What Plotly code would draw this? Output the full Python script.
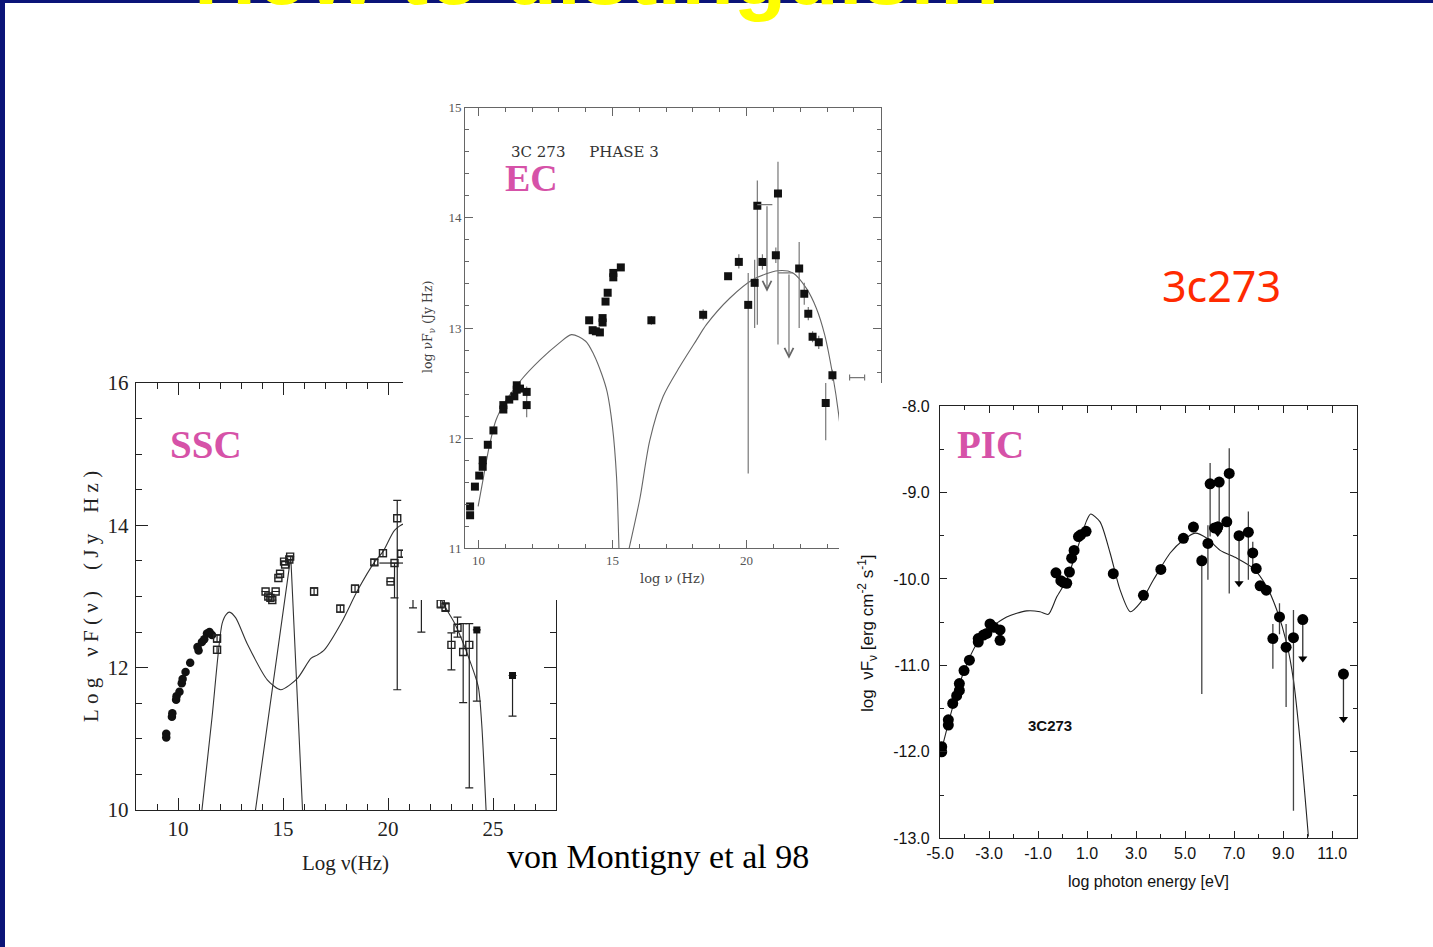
import plotly.graph_objects as go

W, H = 1433, 947
def fx(p): return p / W
def fy(p): return 1 - p / H

# ---------------- SSC panel data ----------------
ssc_radio_x = [9.44, 9.44, 9.71, 9.73, 9.91, 9.93, 10.07, 10.18, 10.22, 10.36, 10.58, 10.93, 10.98, 11.14, 11.25, 11.38, 11.50, 11.62]
ssc_radio_y = [11.07, 11.02, 11.31, 11.36, 11.55, 11.60, 11.66, 11.78, 11.84, 11.94, 12.07, 12.29, 12.24, 12.36, 12.40, 12.48, 12.50, 12.46]

ssc_sq_x = [11.86, 11.86, 14.17, 14.30, 14.40, 14.49, 14.65, 14.78, 14.86, 15.05, 15.10, 15.30, 15.34,
            16.48, 17.73, 18.43, 19.35, 19.76, 20.12, 20.31, 20.44, 20.63, 21.19, 21.59,
            22.51, 22.74, 23.02, 23.31, 23.58, 23.87]
ssc_sq_y = [12.41, 12.25, 13.07, 13.00, 12.98, 12.95, 13.07, 13.26, 13.32, 13.49, 13.45, 13.52, 13.56,
            13.07, 12.83, 13.11, 13.48, 13.61, 13.21, 13.47, 14.10, 13.60, 13.30, 13.10,
            12.90, 12.85, 12.32, 12.56, 12.22, 12.32]
ssc_sq_eplus = [0.05, 0.05, 0, 0, 0, 0, 0, 0, 0, 0, 0, 0, 0,
                0.05, 0.05, 0.05, 0.04, 0.05, 0, 0, 0.25, 0.05, 0.30, 0.30,
                0.06, 0.06, 0.17, 0.15, 0.40, 0.30]
ssc_sq_eminus = [0.05, 0.05, 0, 0, 0, 0, 0, 0, 0, 0, 0, 0, 0,
                 0.05, 0.05, 0.05, 0.04, 0.05, 0, 0.49, 2.41, 0.05, 0.46, 0.60,
                 0.06, 0.06, 0.35, 0.13, 0.71, 2.01]
ssc_sq_exminus = [0] * 19 + [0.72] + [0] * 10
ssc_sq_explus = [0] * 19 + [0.45] + [0] * 10

ssc_fsq_x = [24.23, 25.93]
ssc_fsq_y = [12.53, 11.89]
ssc_fsq_eminus = [1.00, 0.57]

ssc_c1_x = [11.14, 11.62, 12.10, 12.30, 12.45, 12.75, 13.29, 14.25, 14.89, 15.69, 16.33, 16.65, 16.97,
            17.76, 18.56, 19.35, 19.76, 20.31, 20.76, 21.40, 22.00, 22.55, 23.18, 23.82, 24.30, 24.46, 24.67]
ssc_c1_y = [10.00, 11.30, 12.62, 12.75, 12.78, 12.70, 12.34, 11.83, 11.69, 11.85, 12.13, 12.18, 12.25,
            12.62, 13.09, 13.48, 13.63, 13.93, 14.02, 13.95, 13.50, 12.95, 12.62, 12.16, 11.73, 11.22, 10.00]
ssc_c2_x = [13.69, 15.37, 15.93]
ssc_c2_y = [10.00, 13.56, 10.00]

# ---------------- EC panel data ----------------
ec_x = [9.69, 9.69, 9.87, 10.03, 10.16, 10.16, 10.35, 10.56, 10.93, 10.93, 11.15, 11.34, 11.43, 11.43, 11.55, 11.80, 11.80,
        14.13, 14.26, 14.38, 14.53, 14.63, 14.63, 14.74, 14.82, 15.03, 15.03, 15.31, 16.45,
        18.38, 19.31, 19.71, 20.06, 20.30, 20.40, 20.59, 21.09, 21.17, 21.96, 22.15, 22.30, 22.46, 22.69, 22.95, 23.20]
ec_y = [11.38, 11.30, 11.56, 11.66, 11.74, 11.80, 11.94, 12.07, 12.30, 12.26, 12.35, 12.38, 12.48, 12.44, 12.45, 12.42, 12.30,
        13.07, 12.98, 12.97, 12.96, 13.09, 13.05, 13.24, 13.32, 13.50, 13.46, 13.55, 13.07,
        13.12, 13.47, 13.60, 13.21, 13.41, 14.11, 13.60, 13.66, 14.22, 13.54, 13.31, 13.13, 12.92, 12.87, 12.32, 12.57]
ec_eplus = [0] * 15 + [0.05, 0.12] + [0] * 11 + [0.04] + \
           [0.05, 0, 0.07, 0.29, 0.21, 0.23, 0.07, 0.07, 0.29, 0.24, 0.10, 0.06, 0.05, 0.06, 0.18, 0.05]
ec_eminus = [0] * 15 + [0.05, 0.11] + [0] * 11 + [0.04] + \
            [0.05, 0, 0.06, 1.53, 0.41, 1.08, 0.07, 0.07, 1.37, 0.54, 0.10, 0.06, 0.05, 0.06, 0.34, 0.05]

ec_ul_x = [20.76, 21.58]
ec_ul_y = [14.12, 13.50]
ec_ul_low = [13.33, 12.72]
ec_ul_exminus = [0.36, 0.41]
ec_ul_explus = [0.20, 0.15]

ec_bar_x = [24.12]
ec_bar_y = [12.55]
ec_bar_ex = [0.28]

ec_c1_x = [9.99, 10.20, 10.40, 10.65, 11.00, 11.60, 12.30, 13.00, 13.47, 14.00, 14.30, 14.60, 14.80, 15.00, 15.15, 15.24]
ec_c1_y = [11.38, 11.66, 11.92, 12.16, 12.33, 12.53, 12.71, 12.86, 12.94, 12.88, 12.76, 12.58, 12.42, 12.10, 11.65, 11.00]
ec_c2_x = [15.62, 16.02, 16.39, 16.89, 17.51, 18.13, 18.50, 19.37, 20.24, 21.17, 21.73, 22.23, 22.60, 22.91, 23.22, 23.43, 23.70]
ec_c2_y = [11.00, 11.45, 11.98, 12.38, 12.65, 12.89, 13.03, 13.27, 13.44, 13.52, 13.50, 13.36, 13.18, 12.94, 12.56, 12.22, 11.60]

# ---------------- PIC panel data ----------------
pic_x = [-4.93, -4.93, -4.66, -4.66, -4.48, -4.32, -4.21, -4.21, -4.02, -3.80, -3.44, -3.44, -3.23, -3.09, -2.96, -2.80, -2.55, -2.55,
         -0.27, -0.07, 0.03, 0.17, 0.28, 0.37, 0.47, 0.65, 0.74, 0.96, 2.07,
         3.30, 4.01, 4.93, 5.34, 5.68, 5.93, 6.02, 6.20, 6.33, 6.39, 6.70, 6.80, 7.58, 7.76, 7.90, 8.06, 8.31, 8.58, 8.85, 9.12, 9.42]
pic_y = [-11.94, -12.00, -11.63, -11.69, -11.44, -11.35, -11.21, -11.29, -11.06, -10.94, -10.73, -10.69, -10.65, -10.63, -10.52, -10.56, -10.59, -10.71,
         -9.93, -10.02, -10.04, -10.05, -9.92, -9.76, -9.67, -9.51, -9.49, -9.45, -9.94,
         -10.19, -9.89, -9.53, -9.40, -9.79, -9.59, -8.90, -9.41, -9.40, -8.88, -9.34, -8.78, -9.46, -9.70, -9.88, -10.08, -10.13, -10.69, -10.44, -10.79, -10.68]
pic_eplus = [0] * 17 + [0.06] + [0] * 11 + \
            [0, 0, 0, 0.06, 0.07, 0.21, 0.24, 0, 0, 0.05, 0, 0.29, 0.24, 0.13, 0, 0, 0, 0.17, 0.16, 0.27, 0.32]
pic_eminus = [0] * 17 + [0.06] + [0] * 11 + \
             [0, 0, 0, 0.06, 1.54, 0.42, 0.61, 0, 0, 0.52, 0, 1.39, 0.55, 0.16, 0, 0, 0, 0.35, 0.20, 0.69, 2.00]

pic_ul_x = [6.33, 7.20, 9.80, 11.46]
pic_ul_y = [-9.40, -9.50, -10.47, -11.10]
pic_ul_low = [-9.47, -10.05, -10.92, -11.62]

pic_c_x = [-5.00, -4.50, -4.00, -3.50, -3.00, -2.28, -1.46, -0.92, -0.58, -0.24, 0.17, 0.58, 0.99, 1.15, 1.53, 1.94,
           2.35, 2.76, 3.16, 3.71, 4.39, 4.93, 5.41, 5.89, 6.43, 7.11, 7.79, 8.33, 8.74, 9.15, 9.42, 9.69, 10.03]
pic_c_y = [-12.05, -11.50, -11.05, -10.75, -10.58, -10.44, -10.37, -10.38, -10.41, -10.21, -10.01, -9.67, -9.32, -9.25, -9.34, -9.70,
           -10.13, -10.38, -10.28, -10.01, -9.70, -9.55, -9.47, -9.53, -9.67, -9.76, -9.88, -10.09, -10.36, -10.75, -11.17, -11.87, -12.98]

pic_xtick_vals = [-5, -3, -1, 1, 3, 5, 7, 9, 11]
pic_xtick_text = ["-5.0", "-3.0", "-1.0", "1.0", "3.0", "5.0", "7.0", "9.0", "11.0"]
pic_ytick_vals = [-13, -12, -11, -10, -9, -8]
pic_ytick_text = ["-13.0", "-12.0", "-11.0", "-10.0", "-9.0", "-8.0"]

# ---------------- figure ----------------
fig = go.Figure()

SERIF = "Liberation Serif, Times New Roman, serif"
WSERIF = "DejaVu Serif, serif"
SANS = "Liberation Sans Narrow, Liberation Sans, Arial, sans-serif"
PINK = "#d652a8"

# SSC
fig.add_trace(go.Scatter(x=ssc_c1_x, y=ssc_c1_y, mode="lines", line=dict(color="#333", width=1.1, shape="spline", smoothing=0.7),
                         xaxis="x", yaxis="y", hoverinfo="skip"))
fig.add_trace(go.Scatter(x=ssc_c2_x, y=ssc_c2_y, mode="lines", line=dict(color="#333", width=1.1),
                         xaxis="x", yaxis="y", hoverinfo="skip"))
fig.add_trace(go.Scatter(x=ssc_radio_x, y=ssc_radio_y, mode="markers", marker=dict(symbol="circle", size=8.5, color="#111"),
                         xaxis="x", yaxis="y"))
fig.add_trace(go.Scatter(x=ssc_sq_x, y=ssc_sq_y, mode="markers",
                         marker=dict(symbol="square-open", size=7, color="#222", line=dict(width=1.4)),
                         error_y=dict(type="data", symmetric=False, array=ssc_sq_eplus, arrayminus=ssc_sq_eminus,
                                      color="#222", thickness=1.2, width=4),
                         error_x=dict(type="data", symmetric=False, array=ssc_sq_explus, arrayminus=ssc_sq_exminus,
                                      color="#222", thickness=1.2, width=0),
                         xaxis="x", yaxis="y"))
fig.add_trace(go.Scatter(x=ssc_fsq_x, y=ssc_fsq_y, mode="markers",
                         marker=dict(symbol="square", size=7, color="#111"),
                         error_y=dict(type="data", symmetric=False, array=[0, 0], arrayminus=ssc_fsq_eminus,
                                      color="#222", thickness=1.2, width=4),
                         xaxis="x", yaxis="y"))

# EC cover panel (subplot 2) - empty subplot used as white backing
fig.add_trace(go.Scatter(x=[], y=[], xaxis="x2", yaxis="y2", mode="markers", hoverinfo="skip"))

# EC
fig.add_trace(go.Scatter(x=ec_c1_x, y=ec_c1_y, mode="lines", line=dict(color="#666", width=1.1, shape="spline", smoothing=0.8),
                         xaxis="x3", yaxis="y3", hoverinfo="skip"))
fig.add_trace(go.Scatter(x=ec_c2_x, y=ec_c2_y, mode="lines", line=dict(color="#666", width=1.1, shape="spline", smoothing=0.8),
                         xaxis="x3", yaxis="y3", hoverinfo="skip"))
fig.add_trace(go.Scatter(x=ec_x, y=ec_y, mode="markers", marker=dict(symbol="square", size=8, color="#111"),
                         error_y=dict(type="data", symmetric=False, array=ec_eplus, arrayminus=ec_eminus,
                                      color="#777", thickness=1.2, width=0),
                         xaxis="x3", yaxis="y3"))
fig.add_trace(go.Scatter(x=ec_ul_x, y=ec_ul_y, mode="markers", marker=dict(size=1, color="rgba(0,0,0,0)"),
                         error_x=dict(type="data", symmetric=False, array=ec_ul_explus, arrayminus=ec_ul_exminus,
                                      color="#777", thickness=1.2, width=0),
                         xaxis="x3", yaxis="y3", hoverinfo="skip"))
fig.add_trace(go.Scatter(x=ec_bar_x, y=ec_bar_y, mode="markers", marker=dict(size=1, color="rgba(0,0,0,0)"),
                         error_x=dict(type="data", array=ec_bar_ex, color="#777", thickness=1.2, width=3),
                         xaxis="x3", yaxis="y3", hoverinfo="skip"))

# PIC cover panel (subplot 4)
fig.add_trace(go.Scatter(x=[], y=[], xaxis="x4", yaxis="y4", mode="markers", hoverinfo="skip"))

# PIC
fig.add_trace(go.Scatter(x=pic_c_x, y=pic_c_y, mode="lines", line=dict(color="#222", width=1.1, shape="spline", smoothing=0.7),
                         xaxis="x5", yaxis="y5", hoverinfo="skip"))
fig.add_trace(go.Scatter(x=pic_x, y=pic_y, mode="markers", marker=dict(symbol="circle", size=11, color="#000"),
                         error_y=dict(type="data", symmetric=False, array=pic_eplus, arrayminus=pic_eminus,
                                      color="#444", thickness=1.3, width=0),
                         xaxis="x5", yaxis="y5"))
fig.add_trace(go.Scatter(x=pic_ul_x, y=pic_ul_y, mode="markers", marker=dict(symbol="circle", size=11, color="#000"),
                         error_y=dict(type="data", symmetric=False, array=[0] * len(pic_ul_x),
                                      arrayminus=[a - b for a, b in zip(pic_ul_y, pic_ul_low)],
                                      color="#333", thickness=1.3, width=0),
                         xaxis="x5", yaxis="y5"))
fig.add_trace(go.Scatter(x=pic_ul_x, y=pic_ul_low, mode="markers",
                         marker=dict(symbol="triangle-down", size=8, color="#000"),
                         xaxis="x5", yaxis="y5", hoverinfo="skip"))


def frame_axis(domain, rng, anchor, tick0, dtick, mdtick, font, linecolor, lw, tlen, mlen, **kw):
    d = dict(domain=domain, range=rng, anchor=anchor, showgrid=False, zeroline=False, automargin=False,
             showline=True, linecolor=linecolor, linewidth=lw, mirror="ticks",
             ticks="inside", ticklen=tlen, tickwidth=lw, tickcolor=linecolor,
             tickfont=font, fixedrange=True,
             minor=dict(ticks="inside", ticklen=mlen, tickwidth=lw, tickcolor=linecolor,
                        tickmode="linear", tick0=tick0, dtick=mdtick, showgrid=False))
    if dtick is not None:
        d.update(tickmode="linear", tick0=tick0, dtick=dtick)
    d.update(kw)
    return d


hidden = dict(visible=False, range=[0, 1], showgrid=False, zeroline=False, fixedrange=True, automargin=False)

layout = dict(
    width=W, height=H, margin=dict(l=0, r=0, t=0, b=0, pad=0, autoexpand=False),
    paper_bgcolor="white", plot_bgcolor="white", showlegend=False,
    xaxis=frame_axis([fx(136), fx(556)], [8, 28], "y", 10, 5, 1,
                     dict(family=SERIF, size=21, color="#222"), "#222", 1.4, 12, 6),
    yaxis=frame_axis([fy(810), fy(383)], [10, 16], "x", 10, 2, 0.5,
                     dict(family=SERIF, size=21, color="#222"), "#222", 1.4, 12, 6, ticklabelstandoff=2),
    xaxis2=dict(hidden, domain=[fx(403), fx(890)], anchor="y2"),
    yaxis2=dict(hidden, domain=[fy(600), fy(90)], anchor="x2"),
    xaxis3=frame_axis([fx(465), fx(880.7)], [9.5, 25], "y3", 10, 5, 1,
                      dict(family=SERIF, size=13, color="#555"), "#666", 1, 8, 4),
    yaxis3=frame_axis([fy(548.3), fy(107.7)], [11, 15], "x3", 11, 1, 0.2,
                      dict(family=SERIF, size=13, color="#555"), "#666", 1, 8, 4),
    xaxis4=dict(hidden, domain=[fx(839), 1.0], anchor="y4"),
    yaxis4=dict(hidden, domain=[0.0, fy(383)], anchor="x4"),
    xaxis5=frame_axis([fx(940), fx(1356.7)], [-5, 12], "y5", -5, None, 1,
                      dict(family=SANS, size=16, color="#111"), "#222", 1.2, 7, 4,
                      tickmode="array", tickvals=pic_xtick_vals, ticktext=pic_xtick_text),
    yaxis5=frame_axis([fy(838.3), fy(406)], [-13, -8], "x5", -13, None, 0.5,
                      dict(family=SANS, size=16, color="#111"), "#222", 1.2, 7, 4,
                      tickmode="array", tickvals=pic_ytick_vals, ticktext=pic_ytick_text,
                      ticklabelstandoff=6),
)

shapes = [
    # white backing panels of the overlapping figures
    dict(type="rect", xref="x2", yref="y2", x0=0, x1=1, y0=0, y1=1, layer="below",
         fillcolor="white", line=dict(width=0)),
    dict(type="rect", xref="x4", yref="y4", x0=0, x1=1, y0=0, y1=1, layer="below",
         fillcolor="white", line=dict(width=0)),
    # slide border
    dict(type="rect", xref="paper", yref="paper", x0=0, x1=fx(5), y0=0, y1=1, layer="above",
         fillcolor="#0b1478", line=dict(width=0)),
    dict(type="rect", xref="paper", yref="paper", x0=0, x1=1, y0=fy(3), y1=1, layer="above",
         fillcolor="#0b1478", line=dict(width=0)),
]

NB = "\u00a0"
def spaced(s):
    return NB.join(s)

def note(text, x, y, size, family, color, xanchor="center", yanchor="middle", **kw):
    return dict(text=text, xref="paper", yref="paper", x=fx(x), y=fy(y), xanchor=xanchor, yanchor=yanchor,
                showarrow=False, font=dict(family=family, size=size, color=color), **kw)

annotations = [
    # slide title (cut off at top)
    note("<b>How to distinguish?</b>", 192, 24, 86, "Liberation Sans, Arial, sans-serif", "#ffff00",
         xanchor="left", yanchor="bottom"),
    # panel labels
    note("<b>SSC</b>", 206, 444, 39, SERIF, PINK),
    note("<b>EC</b>", 531, 178, 38, SERIF, PINK),
    note("<b>PIC</b>", 990, 444, 39, SERIF, PINK),
    # SSC axis titles
    note(spaced("Log") + NB * 4 + spaced("νF(ν)") + NB * 4 + spaced("(Jy") + NB * 4 + spaced("Hz)"),
         91, 597, 21, SERIF, "#222", textangle=-90),
    note("Log ν(Hz)", 345, 863, 21, SERIF, "#222"),
    # EC texts
    note("3C" + NB + "273" + NB * 5 + "PHASE" + NB + "3", 585, 152, 15, WSERIF, "#333"),
    note("log νF<sub>ν</sub> (Jy Hz)", 428, 327, 12.5, WSERIF, "#444", textangle=-90),
    note("log ν (Hz)", 672, 578, 13, WSERIF, "#444"),
    # PIC texts
    note("log  νF<sub>ν</sub> [erg cm<sup>-2</sup> s<sup>-1</sup>]", 867, 633, 17, SANS, "#111", textangle=-90),
    note("log photon energy [eV]", 1148, 881, 16, SANS, "#111"),
    note("<b>3C273</b>", 1050, 725, 15, SANS, "#111"),
    # slide texts
    note("3c273", 1221, 286, 43, "Noto Sans, DejaVu Sans, sans-serif", "#ff2a00"),
    note("von Montigny et al 98", 658, 856, 34, SERIF, "#000"),
]

# EC upper-limit arrows
for xu, yu, yl in zip(ec_ul_x, ec_ul_y, ec_ul_low):
    annotations.append(dict(x=xu, y=yl, ax=xu, ay=yu, xref="x3", yref="y3", axref="x3", ayref="y3",
                            text="", showarrow=True, arrowhead=5, arrowsize=1.6, arrowwidth=1.1,
                            arrowcolor="#666"))

layout["shapes"] = shapes
layout["annotations"] = annotations
fig.update_layout(**layout)

fig.write_html("out.html")
